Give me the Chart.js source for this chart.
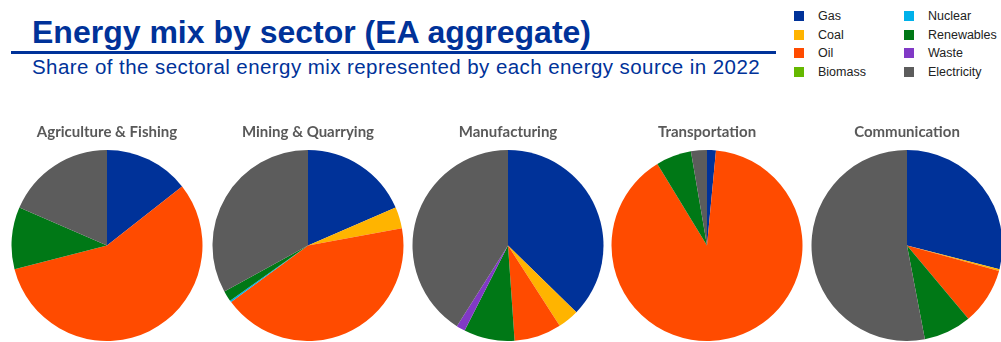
<!DOCTYPE html>
<html>
<head>
<meta charset="utf-8">
<script src="https://cdn.jsdelivr.net/npm/chart.js"></script>
<style>
  html, body { margin: 0; padding: 0; background: #fff; }
  body { width: 1001px; height: 342px; position: relative; overflow: hidden; font-family: 'Liberation Sans', Arial, sans-serif; }
  .title { position: absolute; left: 32px; top: 16px; font-size: 32px; line-height: 32px; font-weight: bold; color: #003299; white-space: nowrap; }
  .rule { position: absolute; left: 11px; top: 51px; width: 765px; height: 3px; background: #003299; }
  .subtitle { position: absolute; left: 32px; top: 57px; font-size: 20.5px; line-height: 20px; letter-spacing: 0.43px; color: #003299; white-space: nowrap; }
  .legend { position: absolute; top: 0; left: 0; }
  .legend .item { position: absolute; font-size: 12.5px; line-height: 14px; color: #222; white-space: nowrap; }
  .legend .box { position: absolute; width: 10px; height: 10px; }
  canvas { position: absolute; top: 120px; }
</style>
</head>
<body>
<div class="title">Energy mix by sector (EA aggregate)</div>
<div class="rule"></div>
<div class="subtitle">Share of the sectoral energy mix represented by each energy source in 2022</div>
<div class="legend" id="legend"></div>

<canvas id="pie0" width="192" height="221" style="left:11px"></canvas>
<canvas id="pie1" width="192" height="221" style="left:212px"></canvas>
<canvas id="pie2" width="192" height="221" style="left:412px"></canvas>
<canvas id="pie3" width="192" height="221" style="left:611px"></canvas>
<canvas id="pie4" width="192" height="221" style="left:811px"></canvas>

<script>
// energy sources, in slice order (clockwise from 12 o'clock)
const sources = ['Gas', 'Coal', 'Oil', 'Biomass', 'Nuclear', 'Renewables', 'Waste', 'Electricity'];
const sourceColors = ['#003299', '#FFB400', '#FF4B00', '#65B800', '#00B1EA', '#007816', '#8139C6', '#5C5C5C'];

const sectors = ['Agriculture & Fishing', 'Mining & Quarrying', 'Manufacturing', 'Transportation', 'Communication'];

// shares in % per sector, same order as sources
const agriculture    = [14.4, 0.0, 56.6, 0, 0.0, 10.5, 0.0, 18.5];
const mining         = [18.5, 3.6, 42.8, 0, 0.3,  1.8, 0.0, 33.0];
const manufacturing  = [37.3, 3.6,  8.0, 0, 0.0,  8.6, 1.5, 41.0];
const transportation = [ 1.5, 0.0, 89.8, 0, 0.0,  6.0, 0.0,  2.7];
const communication  = [29.0, 0.3,  9.6, 0, 0.0,  8.1, 0.0, 53.0];

const sectorShares = [agriculture, mining, manufacturing, transportation, communication];

// legend, two columns of four
const legendEl = document.getElementById('legend');
const rowTops = [16, 35, 53, 72];
sources.forEach(function (name, i) {
    const col = Math.floor(i / 4);
    const row = i % 4;
    const cy = rowTops[row];
    const box = document.createElement('div');
    box.className = 'box';
    box.style.left = (col === 0 ? 794 : 904) + 'px';
    box.style.top = (cy - 5) + 'px';
    box.style.background = sourceColors[i];
    legendEl.appendChild(box);
    const label = document.createElement('div');
    label.className = 'item';
    label.style.left = (col === 0 ? 818 : 928) + 'px';
    label.style.top = (cy - 7) + 'px';
    label.textContent = name;
    legendEl.appendChild(label);
});

sectors.forEach(function (sector, k) {
    const ctx = document.getElementById('pie' + k).getContext('2d');
    new Chart(ctx, {
        type: 'pie',
        data: {
            labels: sources,
            datasets: [{
                data: sectorShares[k],
                backgroundColor: sourceColors,
                borderWidth: 0,
                hoverOffset: 0,
                offset: 0
            }]
        },
        options: {
            responsive: false,
            animation: false,
            layout: { padding: 0 },
            plugins: {
                legend: { display: false },
                tooltip: { enabled: false },
                title: {
                    display: true,
                    text: sector,
                    color: '#595959',
                    font: { family: 'Lato', size: 15, weight: 'bold' },
                    padding: { top: 3, bottom: 9 }
                }
            }
        }
    });
});
</script>
</body>
</html>
